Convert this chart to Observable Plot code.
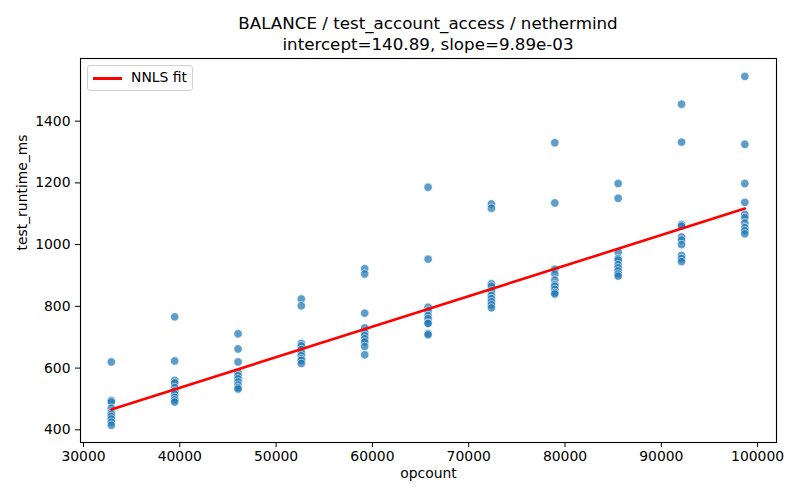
<!DOCTYPE html>
<html><head><meta charset="utf-8">
<script src="https://cdn.jsdelivr.net/npm/d3@7"></script>
<script src="https://cdn.jsdelivr.net/npm/@observablehq/plot@0.6"></script>
<style>
body{margin:0;background:#fff;font-family:"DejaVu Sans",sans-serif;}
#wrap{position:relative;width:800px;height:500px;overflow:hidden;background:#fff;}
#title{position:absolute;left:0;top:13px;width:856px;text-align:center;font-size:16.7px;line-height:21px;color:#000;z-index:2;}
#chart{position:absolute;left:0;top:50px;z-index:1;}
#legend{position:absolute;left:87px;top:65px;width:104px;height:24px;border:1px solid #d0d0d0;border-radius:3px;background:rgba(255,255,255,0.8);font-size:13.9px;z-index:3;}
#legend .sw{position:absolute;left:5px;top:11px;width:29px;height:2.5px;background:#ff0000;}
#legend .lb{position:absolute;left:43px;top:3px;color:#000;}
</style></head><body>
<div id="wrap">
  <div id="chart"></div>
  <div id="title"></div>
  <div id="legend"><div class="sw"></div><div class="lb"></div></div>
</div>
<script>
const titleLines = ["BALANCE / test_account_access / nethermind", "intercept=140.89, slope=9.89e-03"];
const legendLabel = "NNLS fit";
const xLabel = "opcount";
const yLabel = "test_runtime_ms";
const intercept = 140.89;
const slope = 9.89e-3;
const xTicks = [30000, 40000, 50000, 60000, 70000, 80000, 90000, 100000];
const yTicks = [400, 600, 800, 1000, 1200, 1400];
const opcounts = [32890, 39470, 46050, 52620, 59200, 65780, 72360, 78940, 85520, 92100, 98670];
const runtimes = [
  [620, 495, 490, 470, 456, 450, 443, 435, 425, 415],
  [766, 623, 560, 552, 537, 525, 515, 505, 497, 490],
  [711, 662, 620, 585, 575, 565, 555, 545, 537, 532],
  [824, 802, 680, 672, 660, 650, 640, 630, 625, 615],
  [922, 905, 778, 730, 715, 705, 695, 685, 670, 643],
  [1186, 953, 797, 785, 770, 760, 745, 745, 712, 708],
  [1132, 1118, 873, 865, 850, 835, 825, 815, 805, 795],
  [1330, 1135, 920, 905, 885, 870, 865, 855, 845, 840],
  [1198, 1150, 975, 955, 950, 935, 925, 915, 905, 898],
  [1455, 1332, 1065, 1060, 1025, 1015, 1000, 965, 955, 945],
  [1545, 1325, 1198, 1137, 1098, 1087, 1070, 1055, 1045, 1035]
];

const points = opcounts.flatMap((x, i) => runtimes[i].map(y => ({x, y})));
const xmin = d3.min(opcounts), xmax = d3.max(opcounts);
const fit = [xmin, xmax].map(x => ({x, y: intercept + slope * x}));

document.getElementById("title").innerHTML = titleLines.map(t => `<div>${t}</div>`).join("");
document.querySelector("#legend .lb").textContent = legendLabel;

const chart = Plot.plot({
  width: 800, height: 450,
  marginTop: 8, marginBottom: 58, marginLeft: 80, marginRight: 24,
  style: {fontFamily: "DejaVu Sans, sans-serif", fontSize: "13.9px", color: "#000", background: "transparent"},
  x: {domain: [29690, 101960], ticks: xTicks, tickFormat: "d", label: null, tickSize: 5, tickPadding: 4},
  y: {domain: [358.9, 1603], ticks: yTicks, tickFormat: "d", label: null, tickSize: 5, tickPadding: 5},
  marks: [
    Plot.dot(points, {x: "x", y: "y", r: 4.2, fill: "#1f77b4", fillOpacity: 0.72, stroke: "white", strokeWidth: 0.6}),
    Plot.line(fit, {x: "x", y: "y", stroke: "#ff0000", strokeWidth: 2.6}),
    Plot.frame({stroke: "#000", strokeWidth: 1.1}),
    Plot.text([xLabel], {text: d => d, frameAnchor: "bottom", dy: 35, fontSize: 13.9, fill: "#000"}),
    Plot.text([yLabel], {text: d => d, frameAnchor: "left", dx: -58, rotate: -90, fontSize: 13.9, fill: "#000"})
  ]
});
document.getElementById("chart").appendChild(chart);
</script>
</body></html>
